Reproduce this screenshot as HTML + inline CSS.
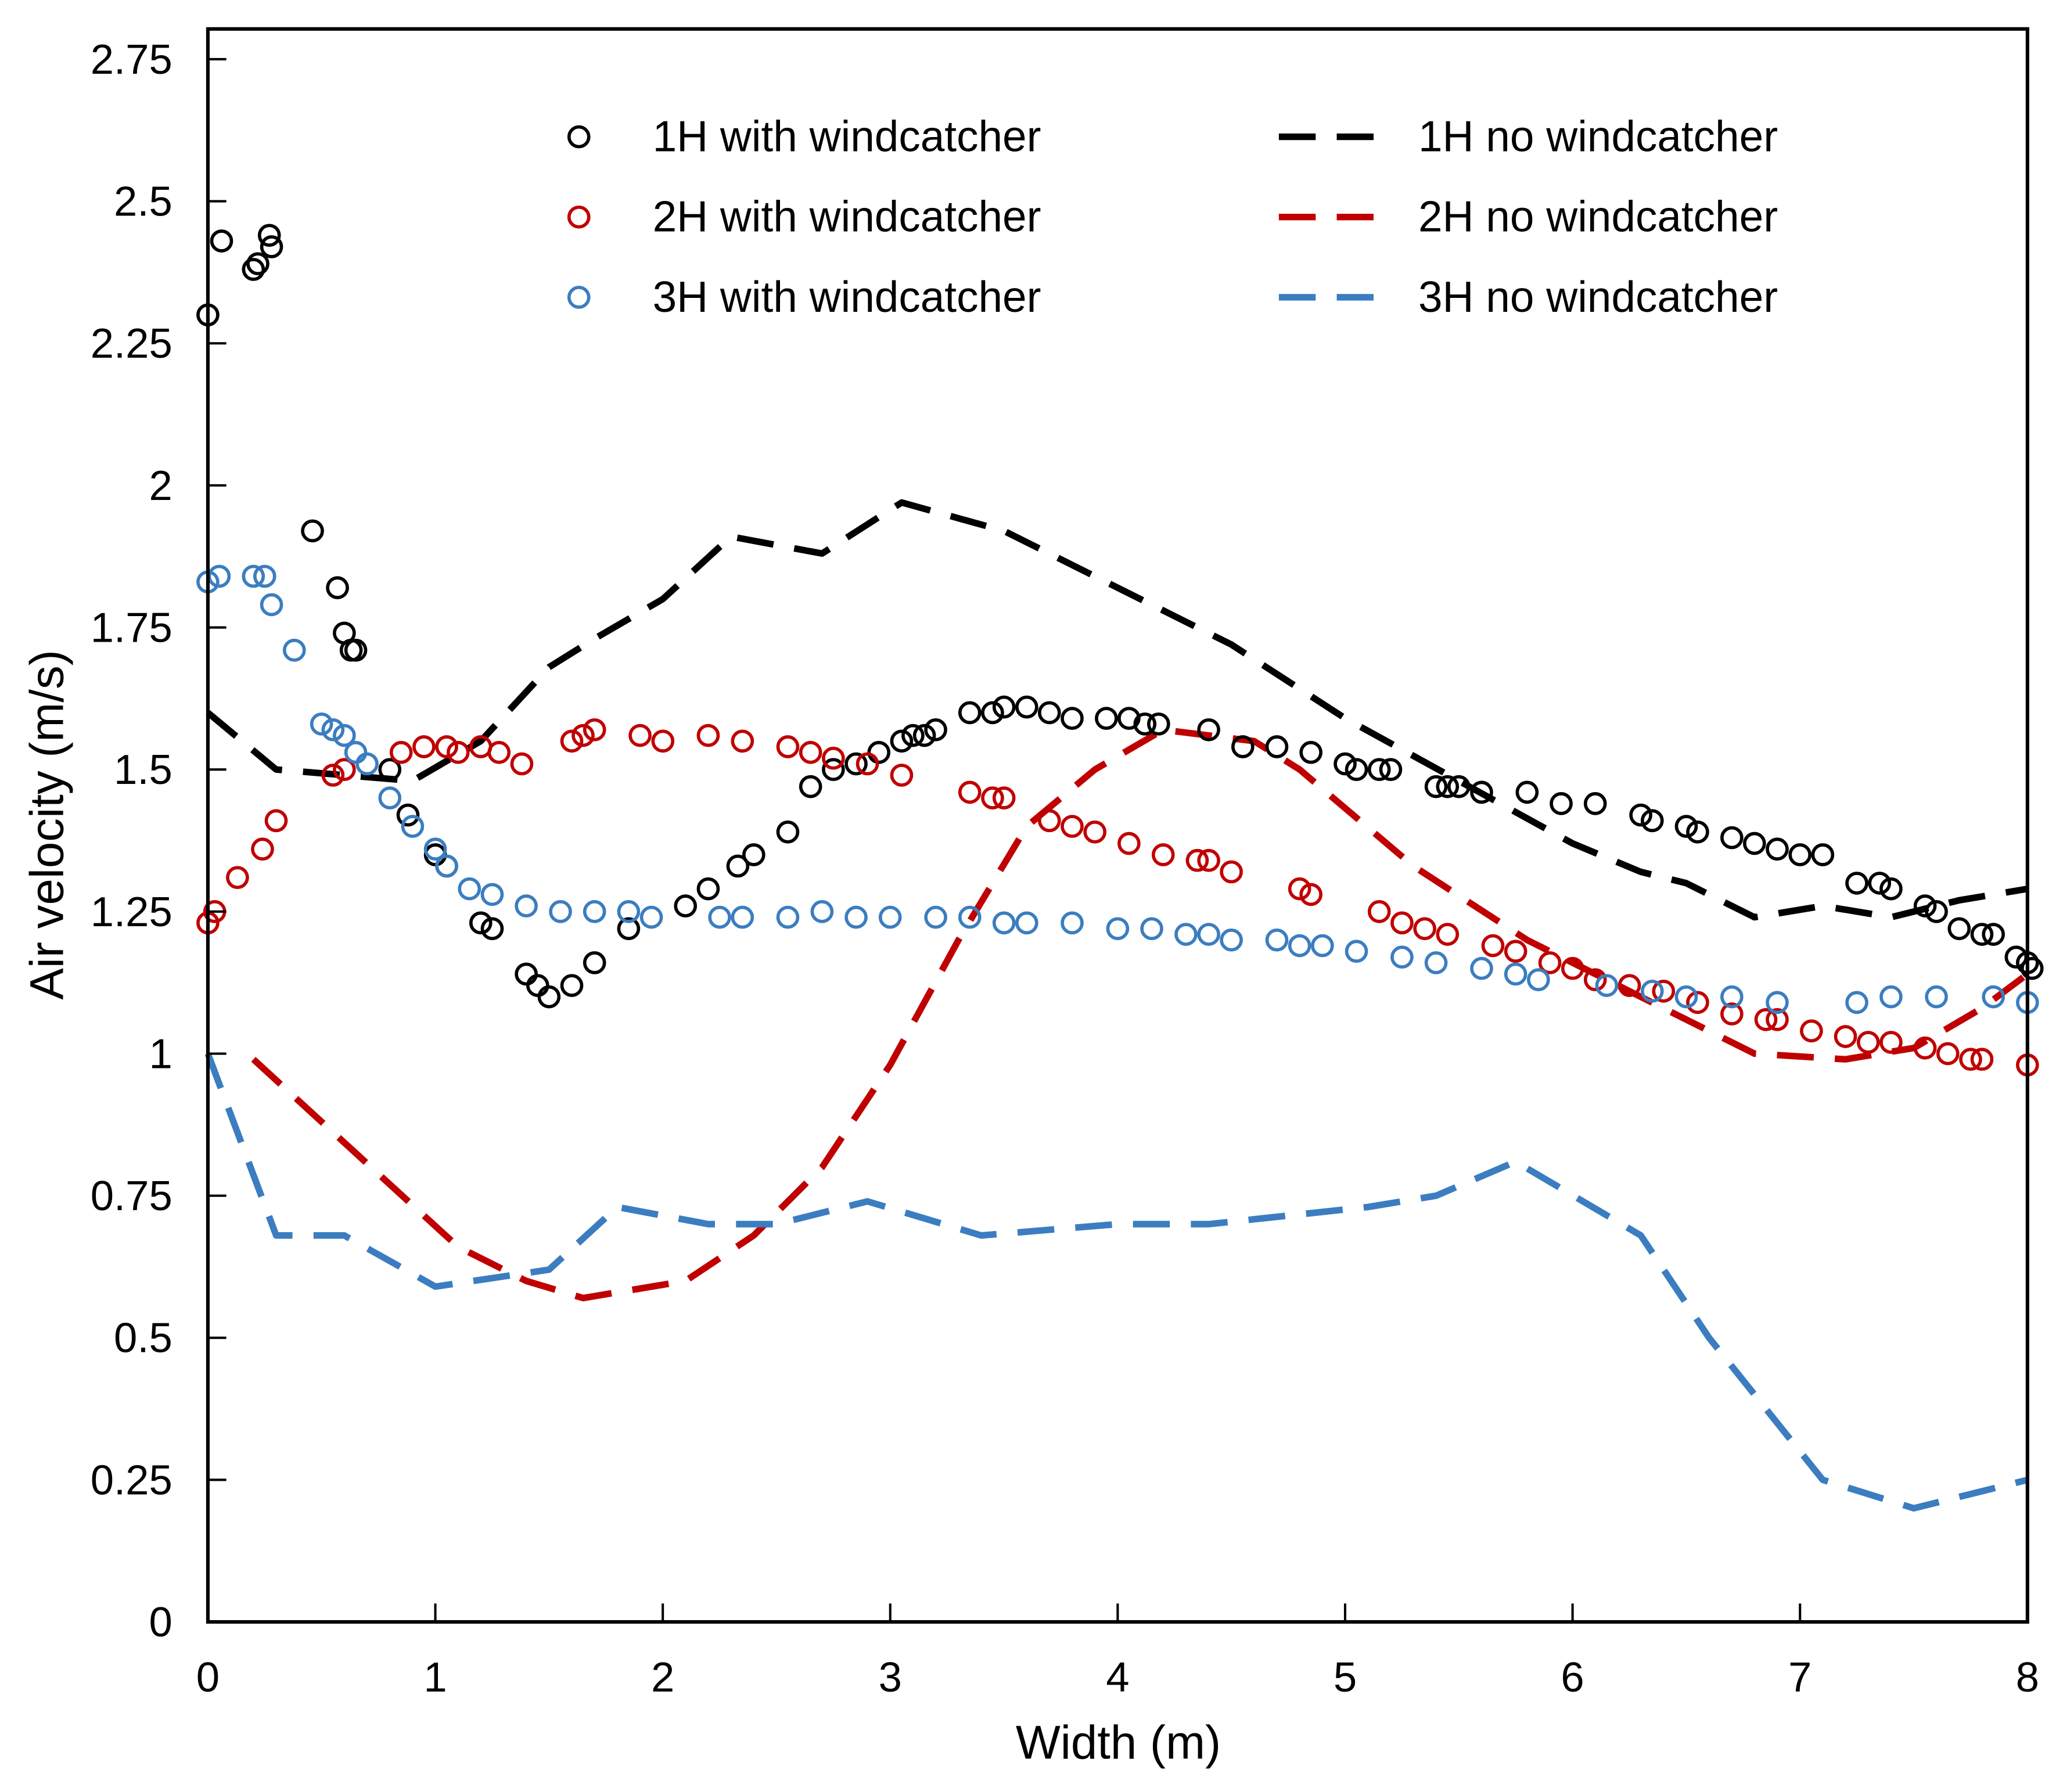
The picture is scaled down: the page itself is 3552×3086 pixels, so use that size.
<!DOCTYPE html>
<html><head><meta charset="utf-8"><style>html,body{margin:0;padding:0;background:#fff}svg{display:block}</style></head>
<body>
<svg id="chart" width="3552" height="3086" viewBox="0 0 1568 1362.3" xmlns="http://www.w3.org/2000/svg" font-family="Liberation Sans, Arial, sans-serif">
<rect x="0" y="0" width="1568" height="1362.3" fill="#fff"/>
<g id="plot"></g>
<g id="axes"></g>
<g id="legend"></g>
</svg>
<script>
const xTicks=[0,1,2,3,4,5,6,7,8];
const yTicks=[0,0.25,0.5,0.75,1,1.25,1.5,1.75,2,2.25,2.5,2.75];
const yTickLabels=["0","0.25","0.5","0.75","1","1.25","1.5","1.75","2","2.25","2.5","2.75"];
const seriesNames=["1H with windcatcher","2H with windcatcher","3H with windcatcher","1H no windcatcher","2H no windcatcher","3H no windcatcher"];
const s1Hwx=[0,0.06,0.2,0.22,0.27,0.28,0.46,0.57,0.6,0.63,0.65,0.8,0.88,1.0,1.05,1.2,1.25,1.4,1.45,1.5,1.6,1.7,1.85,2.1,2.2,2.33,2.4,2.55,2.65,2.75,2.85,2.95,3.05,3.1,3.15,3.2,3.35,3.45,3.5,3.6,3.7,3.8,3.95,4.05,4.12,4.18,4.4,4.55,4.7,4.85,5.0,5.05,5.15,5.2,5.4,5.45,5.5,5.6,5.8,5.95,6.1,6.3,6.35,6.5,6.55,6.7,6.8,6.9,7.0,7.1,7.25,7.35,7.4,7.55,7.6,7.7,7.8,7.85,7.95,8.0,8.02];
const s1Hwy=[2.3,2.43,2.38,2.39,2.44,2.42,1.92,1.82,1.74,1.71,1.71,1.5,1.42,1.35,1.33,1.23,1.22,1.14,1.12,1.1,1.12,1.16,1.22,1.26,1.29,1.33,1.35,1.39,1.47,1.5,1.51,1.53,1.55,1.56,1.56,1.57,1.6,1.6,1.61,1.61,1.6,1.59,1.59,1.59,1.58,1.58,1.57,1.54,1.54,1.53,1.51,1.5,1.5,1.5,1.47,1.47,1.47,1.46,1.46,1.44,1.44,1.42,1.41,1.4,1.39,1.38,1.37,1.36,1.35,1.35,1.3,1.3,1.29,1.26,1.25,1.22,1.21,1.21,1.17,1.16,1.15];
const s2Hwx=[0,0.03,0.13,0.24,0.3,0.55,0.6,0.85,0.95,1.05,1.1,1.2,1.28,1.38,1.6,1.65,1.7,1.9,2.0,2.2,2.35,2.55,2.65,2.75,2.9,3.05,3.35,3.45,3.5,3.7,3.8,3.9,4.05,4.2,4.35,4.4,4.5,4.8,4.85,5.15,5.25,5.35,5.45,5.65,5.75,5.9,6.0,6.1,6.25,6.4,6.55,6.7,6.85,6.9,7.05,7.2,7.3,7.4,7.55,7.65,7.75,7.8,8.0];
const s2Hwy=[1.23,1.25,1.31,1.36,1.41,1.49,1.5,1.53,1.54,1.54,1.53,1.54,1.53,1.51,1.55,1.56,1.57,1.56,1.55,1.56,1.55,1.54,1.53,1.52,1.51,1.49,1.46,1.45,1.45,1.41,1.4,1.39,1.37,1.35,1.34,1.34,1.32,1.29,1.28,1.25,1.23,1.22,1.21,1.19,1.18,1.16,1.15,1.13,1.12,1.11,1.09,1.07,1.06,1.06,1.04,1.03,1.02,1.02,1.01,1.0,0.99,0.99,0.98];
const s3Hwx=[0,0.05,0.2,0.25,0.28,0.38,0.5,0.55,0.6,0.65,0.7,0.8,0.9,1.0,1.05,1.15,1.25,1.4,1.55,1.7,1.85,1.95,2.25,2.35,2.55,2.7,2.85,3.0,3.2,3.35,3.5,3.6,3.8,4.0,4.15,4.3,4.4,4.5,4.7,4.8,4.9,5.05,5.25,5.4,5.6,5.75,5.85,6.15,6.35,6.5,6.7,6.9,7.25,7.4,7.6,7.85,8.0];
const s3Hwy=[1.83,1.84,1.84,1.84,1.79,1.71,1.58,1.57,1.56,1.53,1.51,1.45,1.4,1.36,1.33,1.29,1.28,1.26,1.25,1.25,1.25,1.24,1.24,1.24,1.24,1.25,1.24,1.24,1.24,1.24,1.23,1.23,1.23,1.22,1.22,1.21,1.21,1.2,1.2,1.19,1.19,1.18,1.17,1.16,1.15,1.14,1.13,1.12,1.11,1.1,1.1,1.09,1.09,1.1,1.1,1.1,1.09];
const s1Hnx=[0,0.3,0.6,0.9,1.2,1.5,1.7,2.0,2.3,2.7,3.05,3.5,4.0,4.5,5.0,5.5,6.0,6.3,6.5,6.8,7.1,7.4,7.7,8.0];
const s1Hny=[1.6,1.5,1.49,1.48,1.55,1.68,1.73,1.8,1.91,1.88,1.97,1.92,1.82,1.72,1.59,1.48,1.37,1.32,1.3,1.24,1.26,1.24,1.27,1.29];
const s2Hnx=[0.2,0.5,0.8,1.1,1.4,1.65,2.1,2.4,2.7,3.0,3.3,3.6,3.9,4.2,4.6,4.8,5.3,5.8,6.3,6.8,7.2,7.5,7.8,8.0];
const s2Hny=[0.99,0.88,0.77,0.66,0.6,0.57,0.6,0.68,0.8,0.98,1.2,1.4,1.5,1.57,1.55,1.5,1.33,1.2,1.1,1.0,0.99,1.01,1.08,1.14];
const s3Hnx=[0,0.3,0.6,1.0,1.5,1.8,2.2,2.5,2.9,3.4,4.0,4.4,5.1,5.4,5.75,6.3,6.6,7.1,7.5,8.0];
const s3Hny=[1.0,0.68,0.68,0.59,0.62,0.73,0.7,0.7,0.74,0.68,0.7,0.7,0.73,0.75,0.81,0.68,0.5,0.25,0.2,0.25];

const X0=158,X1=1541,Y0=1233,Ytop=45;
function sx(v){return X0+(X1-X0)*v/8;}
function sy(v){return Y0-(Y0-Ytop)*v/2.75;}
const NS="http://www.w3.org/2000/svg";
function mk(tag,parent,attrs){const e=document.createElementNS(NS,tag);for(const k in attrs)e.setAttribute(k,attrs[k]);parent.appendChild(e);return e;}
const plot=document.getElementById('plot'),axes=document.getElementById('axes'),legend=document.getElementById('legend');
const BLACK="#000",RED="#c00000",BLUE="#3b7dc0";
const DASH="28 16";

function dashed(xs,ys,color,name){
  const d=xs.map((x,i)=>(i?'L':'M')+sx(x).toFixed(1)+','+sy(ys[i]).toFixed(1)).join(' ');
  const p=mk('path',plot,{d:d,fill:'none',stroke:color,'stroke-width':5,'stroke-dasharray':DASH,'stroke-linejoin':'round'});
  
  
}
function circles(xs,ys,color,name){
  const g=mk('g',plot,{});
  
  
  xs.forEach((x,i)=>{
    const c=mk('circle',g,{cx:sx(x).toFixed(1),cy:sy(ys[i]).toFixed(1),r:7.5,fill:'none',stroke:color,'stroke-width':2.5});
    
    
  });
}
dashed(s1Hnx,s1Hny,BLACK,'series-1h-no-windcatcher');
dashed(s2Hnx,s2Hny,RED,'series-2h-no-windcatcher');
dashed(s3Hnx,s3Hny,BLUE,'series-3h-no-windcatcher');
circles(s1Hwx,s1Hwy,BLACK,'series-1h-with-windcatcher');
circles(s2Hwx,s2Hwy,RED,'series-2h-with-windcatcher');
circles(s3Hwx,s3Hwy,BLUE,'series-3h-with-windcatcher');

const fr=mk('rect',axes,{x:X0,y:22,width:X1-X0,height:Y0-22,fill:'none',stroke:'#000','stroke-width':2.7});


xTicks.forEach(t=>{
  const l=mk('line',axes,{x1:sx(t),x2:sx(t),y1:Y0,y2:Y0-14,stroke:'#000','stroke-width':1.8});
  
  
  const tx=mk('text',axes,{x:sx(t),y:1286,'font-size':32,'text-anchor':'middle'});
  tx.textContent=String(t);
  
  
});
yTicks.forEach((t,i)=>{
  const l=mk('line',axes,{x1:X0,x2:X0+14,y1:sy(t),y2:sy(t),stroke:'#000','stroke-width':1.8});
  
  
  const tx=mk('text',axes,{x:131,y:sy(t)+11,'font-size':32,'text-anchor':'end'});
  tx.textContent=yTickLabels[i];
  
  
});
const xt=mk('text',axes,{x:850,y:1337,'font-size':36,'text-anchor':'middle'});
xt.textContent='Width (m)';


const yt=mk('text',axes,{x:0,y:0,'font-size':36,'text-anchor':'middle',transform:'translate(48,627) rotate(-90)'});
yt.textContent='Air velocity (m/s)';



const colors=[BLACK,RED,BLUE];
const rowsY=[104,165,226];
for(let i=0;i<3;i++){
  const c=mk('circle',legend,{cx:440,cy:rowsY[i],r:7.5,fill:'none',stroke:colors[i],'stroke-width':2.5});
  
  
  const t=mk('text',legend,{x:496,y:rowsY[i]+11,'font-size':33});
  t.textContent=seriesNames[i];
  
  
  const l=mk('line',legend,{x1:972,x2:1052,y1:rowsY[i],y2:rowsY[i],stroke:colors[i],'stroke-width':5,'stroke-dasharray':DASH});
  
  
  const t2=mk('text',legend,{x:1078,y:rowsY[i]+11,'font-size':33});
  t2.textContent=seriesNames[i+3];
  
  
}
</script>
</body></html>
